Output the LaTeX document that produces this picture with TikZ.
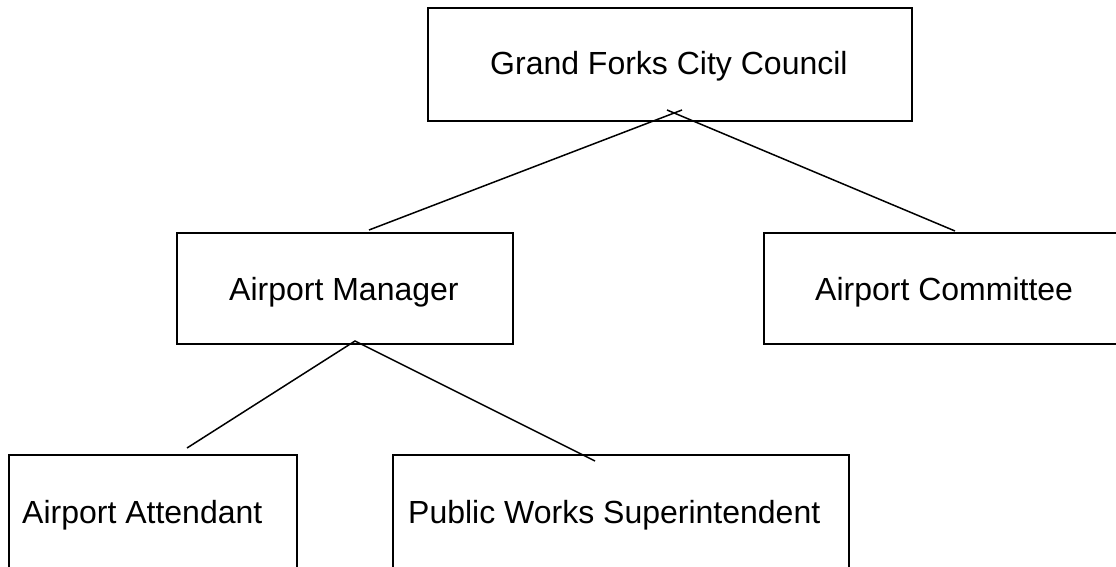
\documentclass[tikz,border=0pt]{standalone}
\usepackage{fontspec}
\setmainfont{Liberation Sans}
\begin{document}
\begin{tikzpicture}[x=1pt,y=-1pt,
  orgbox/.style={draw=black,line width=2pt,anchor=north west,inner sep=0pt},
  label/.style={anchor=base west,inner sep=0pt,font=\fontsize{32}{38}\selectfont},
  conn/.style={draw=black,line width=1.5pt}]
\useasboundingbox (0,0) rectangle (1116,567);
% boxes
\node[orgbox,minimum width=484pt,minimum height=113pt] (council) at (427,7.5) {};
\node[orgbox,minimum width=336pt,minimum height=111pt] (manager) at (176,232) {};
\node[orgbox,minimum width=360pt,minimum height=111pt] (committee) at (763,232) {};
\node[orgbox,minimum width=288pt,minimum height=160pt] (attendant) at (7.5,454) {};
\node[orgbox,minimum width=456pt,minimum height=160pt] (works) at (392,454) {};
% texts
\node[label] (tcouncil) at (490,75) {Grand Forks City Council};
\node[label] (tmanager) at (229,300) {Airport Manager};
\node[label] (tcommittee) at (815,300) {Airport Committee};
\node[label] (tattendant) at (22,523) {Airport Attendant};
\node[label] (tworks) at (408,523) {Public Works Superintendent};
% connector ends
\coordinate (c1) at (682,110);
\coordinate (c2) at (667,110);
\coordinate (m1) at (369,230);
\coordinate (k1) at (955,231);
\coordinate (a0) at (355,341);
\coordinate (a1) at (187,448);
\coordinate (w1) at (595,461);
\draw[conn] (c1) -- (m1);
\draw[conn] (c2) -- (k1);
\draw[conn] (a1) -- (a0) -- (w1);
\end{tikzpicture}
\end{document}
